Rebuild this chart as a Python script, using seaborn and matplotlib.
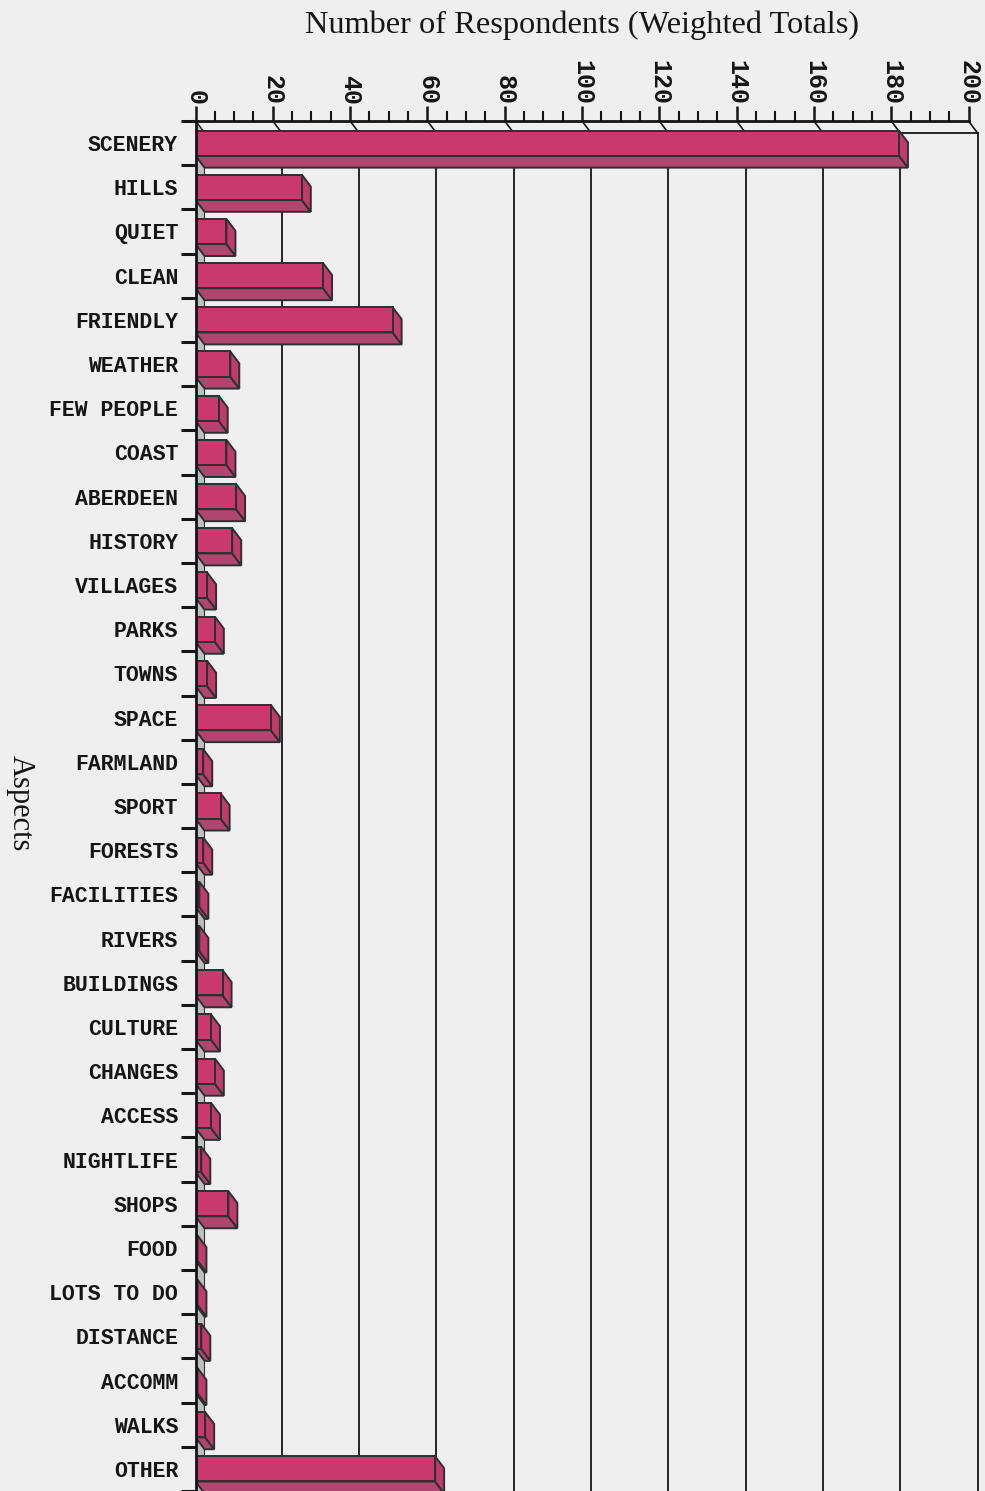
import numpy as np
import pandas as pd
import matplotlib
matplotlib.use("Agg")
import matplotlib.pyplot as plt
from matplotlib.patches import Polygon
import seaborn as sns

# Aspects named by respondents, top to bottom
aspects = [
    "SCENERY", "HILLS", "QUIET", "CLEAN", "FRIENDLY", "WEATHER", "FEW PEOPLE",
    "COAST", "ABERDEEN", "HISTORY", "VILLAGES", "PARKS", "TOWNS", "SPACE",
    "FARMLAND", "SPORT", "FORESTS", "FACILITIES", "RIVERS", "BUILDINGS",
    "CULTURE", "CHANGES", "ACCESS", "NIGHTLIFE", "SHOPS", "FOOD",
    "LOTS TO DO", "DISTANCE", "ACCOMM", "WALKS", "OTHER",
]
# Weighted number of respondents per aspect
respondents = [
    182, 27.5, 8, 33, 51, 9, 6,
    8, 10.5, 9.5, 3, 5, 3, 19.5,
    2, 6.5, 2, 1, 1, 7,
    4, 5, 4, 1.5, 8.5, 0.5,
    0.5, 1.5, 0.5, 2.5, 62,
]
value_ticks = list(range(0, 201, 20))
minor_ticks = list(range(0, 201, 5))

PAGE = "#EFEFEF"
FRONT = "#C9396C"
BOTTOM = "#B04570"
SIDE = "#C23A6A"
EDGE = "#2B3030"
WALL = "#BEBEBE"
INK = "#151515"

MONO = "Liberation Mono"
SERIF = "Liberation Serif"

# pseudo-3D depth of the chart box, in data units (x: respondents, y: category slots)
DX, DY = 2.33, 0.27

fig = plt.figure(figsize=(9.85, 14.91), dpi=100, facecolor=PAGE)
ax = fig.add_axes([195.5 / 985, 0.0, 773 / 985, 1370 / 1491])
ax.set_facecolor(PAGE)

df = pd.DataFrame({"Aspect": aspects, "Respondents": respondents})
sns.barplot(data=df, x="Respondents", y="Aspect", orient="h", color=FRONT,
            saturation=1, width=0.57, edgecolor=EDGE, linewidth=1.4,
            ax=ax, zorder=3)
bars = list(ax.patches)

n = len(aspects)
top, bottom = -0.5, n - 0.5
ax.set_xlim(0, 200)
ax.set_ylim(bottom, top)

# back wall: grid lines, top edge and the receding edges from the front axis
for v in value_ticks[1:]:
    ax.plot([v + DX, v + DX], [top + DY, bottom + DY], color=INK, lw=1.3,
            zorder=0.8, clip_on=False)
ax.plot([DX, 200 + DX], [top + DY, top + DY], color=INK, lw=1.3, zorder=0.8,
        clip_on=False)
for v in value_ticks:
    ax.plot([v, v + DX], [top, top + DY], color=INK, lw=1.2, zorder=0.8,
            clip_on=False)

# left wall seen edge-on between the bars
ax.add_patch(Polygon([(0, top), (DX, top + DY), (DX, bottom + DY), (0, bottom)],
                     closed=True, facecolor=WALL, edgecolor=EDGE, lw=0.8,
                     zorder=1))

# underside and end face of each bar
for p in bars:
    x0, y0 = p.get_x(), p.get_y()
    x1, y1 = x0 + p.get_width(), y0 + p.get_height()
    ax.add_patch(Polygon([(x0, y1), (x1, y1), (x1 + DX, y1 + DY), (x0 + DX, y1 + DY)],
                         closed=True, facecolor=BOTTOM, edgecolor=EDGE, lw=1.4,
                         zorder=2.9))
    ax.add_patch(Polygon([(x1, y0), (x1 + DX, y0 + DY), (x1 + DX, y1 + DY), (x1, y1)],
                         closed=True, facecolor=SIDE, edgecolor=EDGE, lw=1.4,
                         zorder=2.9))

for s in ("right", "bottom"):
    ax.spines[s].set_visible(False)
for s in ("top", "left"):
    ax.spines[s].set_linewidth(2)
    ax.spines[s].set_color(INK)
    ax.spines[s].set_zorder(4)

# value axis along the top
ax.xaxis.tick_top()
ax.set_xticks(value_ticks)
ax.set_xticks(minor_ticks, minor=True)
ax.set_xticklabels([str(v) for v in value_ticks], rotation=-90,
                   fontfamily=MONO, fontsize=18, fontweight="bold")
ax.tick_params(axis="x", which="major", length=11, width=1.8, pad=0.5,
               color=INK, labelcolor=INK)
ax.tick_params(axis="x", which="minor", length=7, width=1.5, color=INK)

# category axis: labels at slot centres, ticks at slot boundaries
ax.set_yticks(np.arange(n))
ax.set_yticklabels(aspects, fontfamily=MONO, fontsize=15.5, fontweight="bold",
                   va="center_baseline")
ax.set_yticks(np.arange(n + 1) - 0.5, minor=True)
ax.tick_params(axis="y", which="major", length=0, pad=12.5, labelcolor=INK)
ax.tick_params(axis="y", which="minor", length=10.8, width=2.2, color=INK)

ax.xaxis.set_label_position("top")
ax.set_xlabel("Number of Respondents (Weighted Totals)", fontfamily=SERIF,
              fontsize=23.3, labelpad=19.5, color=INK)
ax.set_ylabel("Aspects", fontfamily=SERIF, fontsize=22, rotation=-90,
              ha="center", va="center", color=INK)
ax.yaxis.set_label_coords(-0.2264, 0.502)

fig.savefig("out.png", dpi=100, facecolor=PAGE)
